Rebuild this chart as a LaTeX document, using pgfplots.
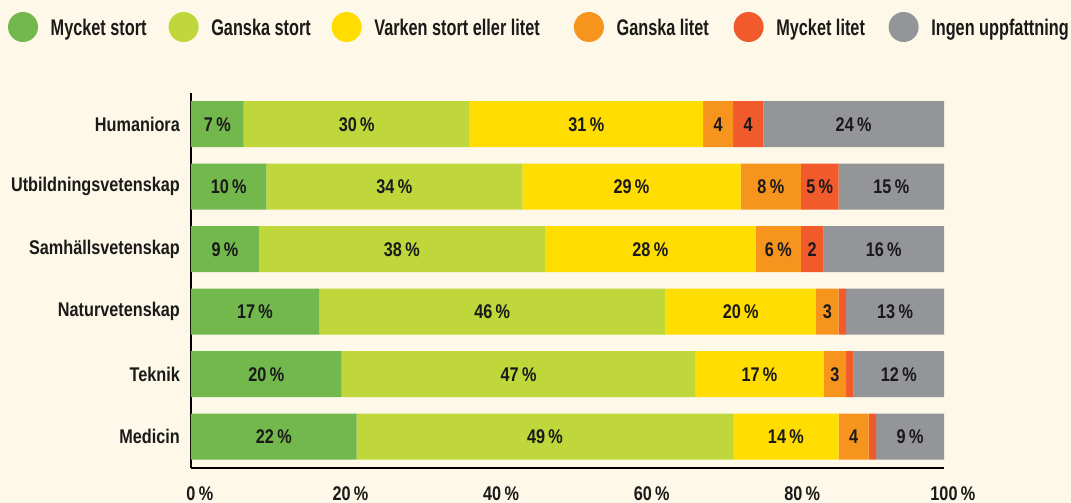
\documentclass[border=0pt]{standalone}
\usepackage{fontspec}
\setmainfont{Liberation Sans}[FakeStretch=0.82]
\newfontfamily\legfont{Liberation Sans}[FakeStretch=0.72]
\usepackage{pgfplots}
\pgfplotsset{compat=1.18}
\definecolor{bg}{HTML}{FEF8E8}
\definecolor{c1}{HTML}{72B84D}
\definecolor{c2}{HTML}{BFD73B}
\definecolor{c3}{HTML}{FFDD00}
\definecolor{c4}{HTML}{F7941E}
\definecolor{c5}{HTML}{F15A2B}
\definecolor{c6}{HTML}{939598}
\definecolor{txt}{HTML}{1A1A1A}
\newcommand{\lblfont}{\bfseries\fontsize{19.8}{22}\selectfont}
\begin{document}
\begin{tikzpicture}[x=1pt,y=1pt]
\fill[bg] (-191,-35) rectangle (880,468);
\path[use as bounding box] (-191,-35) rectangle (880,468);
\begin{axis}[
  at={(0pt,0pt)}, anchor=south west,
  width=753pt, height=375pt, scale only axis,
  xbar stacked, bar width=46pt,
  xmin=0, xmax=100, ymin=-0.5, ymax=5.5,
  axis lines*=left,
  axis line style={line width=2pt, color=black},
  ytick={0,1,2,3,4,5},
  yticklabels={Medicin,Teknik,Naturvetenskap,Samhällsvetenskap,Utbildningsvetenskap,Humaniora},
  xtick={0,20,40,60,80,100},
  xticklabel={\pgfmathprintnumber[assume math mode=true]{\tick}\rlap{\,\%}},
  major tick length=0pt,
  tick label style={font=\lblfont, text=txt},
  yticklabel style={anchor=east, inner sep=0pt, xshift=-11pt},
  xticklabel style={anchor=north, inner sep=0pt, yshift=-18pt},
  legend columns=6,
  legend cell align=left,
  legend style={at={(-0.2430,1.176)}, anchor=west, draw=none, fill=none,
    inner sep=0pt, outer sep=0pt, text=txt,
    font=\legfont\bfseries\fontsize{22.6}{26}\selectfont,
    nodes={inner sep=0pt, text depth=0pt},
    /tikz/every odd column/.append style={column sep=12.7pt},
    /tikz/every even column/.append style={column sep=0pt}},
]
\addplot[fill=c1, draw=none, legend image code/.code={\fill[c1] (15pt,0pt) circle[radius=15pt];}]
  coordinates {(7,5) (10,4) (9,3) (17,2) (20,1) (22,0)};
\addlegendentry{\makebox[117.9pt][l]{Mycket stort}}
\addplot[fill=c2, draw=none, legend image code/.code={\fill[c2] (15pt,0pt) circle[radius=15pt];}]
  coordinates {(30,5) (34,4) (38,3) (46,2) (47,1) (50,0)};
\addlegendentry{\makebox[120.3pt][l]{Ganska stort}}
\addplot[fill=c3, draw=none, legend image code/.code={\fill[c3] (15pt,0pt) circle[radius=15pt];}]
  coordinates {(31,5) (29,4) (28,3) (20,2) (17,1) (14,0)};
\addlegendentry{\makebox[199.6pt][l]{Varken stort eller litet}}
\addplot[fill=c4, draw=none, legend image code/.code={\fill[c4] (15pt,0pt) circle[radius=15pt];}]
  coordinates {(4,5) (8,4) (6,3) (3,2) (3,1) (4,0)};
\addlegendentry{\makebox[117pt][l]{Ganska litet}}
\addplot[fill=c5, draw=none, legend image code/.code={\fill[c5] (15pt,0pt) circle[radius=15pt];}]
  coordinates {(4,5) (5,4) (3,3) (1,2) (1,1) (1,0)};
\addlegendentry{\makebox[112.3pt][l]{Mycket litet}}
\addplot[fill=c6, draw=none, legend image code/.code={\fill[c6] (15pt,0pt) circle[radius=15pt];}]
  coordinates {(24,5) (14,4) (16,3) (13,2) (12,1) (9,0)};
\addlegendentry{Ingen uppfattning}
\end{axis}
\begin{axis}[
  at={(0pt,0pt)}, anchor=south west,
  width=753pt, height=375pt, scale only axis,
  xmin=0, xmax=100, ymin=-0.5, ymax=5.5,
  axis lines=none, clip=false,
]
\addplot[only marks, mark=none, nodes near coords, point meta=explicit symbolic,
  every node near coord/.style={anchor=center, inner sep=0pt, font=\lblfont, text=txt}]
  coordinates {
  (3.5,5) [7\,\%] (22,5) [30\,\%] (52.5,5) [31\,\%] (70,5) [4] (74,5) [4] (88,5) [24\,\%]
  (5,4) [10\,\%] (27,4) [34\,\%] (58.5,4) [29\,\%] (77,4) [8\,\%] (83.5,4) [5\,\%] (93,4) [15\,\%]
  (4.5,3) [9\,\%] (28,3) [38\,\%] (61,3) [28\,\%] (78,3) [6\,\%] (82.5,3) [2] (92,3) [16\,\%]
  (8.5,2) [17\,\%] (40,2) [46\,\%] (73,2) [20\,\%] (84.5,2) [3] (93.5,2) [13\,\%]
  (10,1) [20\,\%] (43.5,1) [47\,\%] (75.5,1) [17\,\%] (85.5,1) [3] (94,1) [12\,\%]
  (11,0) [22\,\%] (47,0) [49\,\%] (79,0) [14\,\%] (88,0) [4] (95.5,0) [9\,\%]
  };
\end{axis}
\end{tikzpicture}
\end{document}
